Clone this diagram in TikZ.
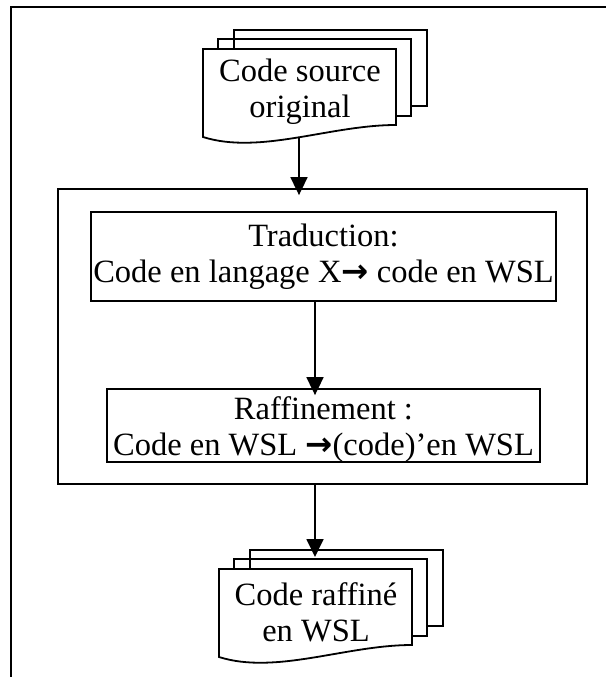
\documentclass[tikz,border=0pt]{standalone}
\usepackage{fontspec}
\setmainfont{Liberation Serif}
\newfontfamily\arrowfont{DejaVu Sans}
\usetikzlibrary{arrows.meta}

\newcommand{\thickarrow}{{\arrowfont\bfseries →}}

\tikzset{
  line/.style={line width=1.8pt},
  txt/.style={align=center,inner sep=0pt,font=\fontsize{32.5}{36}\selectfont},
  box/.style={txt,draw,line width=1.8pt},
  flow/.style={line width=1.8pt,-{Triangle[width=17pt,length=18pt]},shorten >=-7pt},
  % stack of three pages, the front one with a wavy lower edge
  pics/docstack/.style={code={
    \draw[line] (31,0) -- (31,-19) -- (224,-19) -- (224,57) -- (208,57);
    \draw[line] (15,0) -- (15,-10) -- (208,-10) -- (208,67) -- (193,67);
    \draw[line,fill=white] (0,0) -- (193,0) -- (193,76)
      .. controls (127,76) and (57,106) .. (0,88) -- cycle;
    \coordinate (-wave) at (96,89);
    \coordinate (-top) at (96,-19);
  }}
}

\begin{document}
\begin{tikzpicture}[x=1pt,y=-1pt]
\useasboundingbox (0,0) rectangle (606,677);

% page frame
\draw[line] (11,677) -- (11,7) -- (606,7);

% source documents
\pic (src) at (203,49) {docstack};
\node[txt] (srctext) at (300,92) {Code source\\original};

% processing stage with its two steps
\node[draw,line width=1.8pt,minimum width=529pt,minimum height=295pt,inner sep=0pt]
  (stage) at (322.5,336.5) {};
\node[box,minimum width=465pt,minimum height=89pt] (trad) at (323.5,256.5)
  {Traduction:\\Code en langage X\thickarrow{} code en WSL};
\node[draw,line width=1.8pt,minimum width=433pt,minimum height=73pt,inner sep=0pt]
  (raff) at (323.5,425.5) {};
\node[txt] (rafftext) at (323.5,430) {Raffinement :\\Code en WSL \thickarrow(code)’en WSL};

% refined documents
\pic (out) at (219,569) {docstack};
\node[txt] (outtext) at (316,612) {Code raffiné\\en WSL};

% connectors
\coordinate (axis) at (315,0);
\draw[flow] (src-wave) -- (src-wave |- stage.north);
\draw[flow] (trad.south -| axis) -- (raff.north -| axis);
\draw[flow] (stage.south -| axis) -- (out-top);
\end{tikzpicture}
\end{document}
